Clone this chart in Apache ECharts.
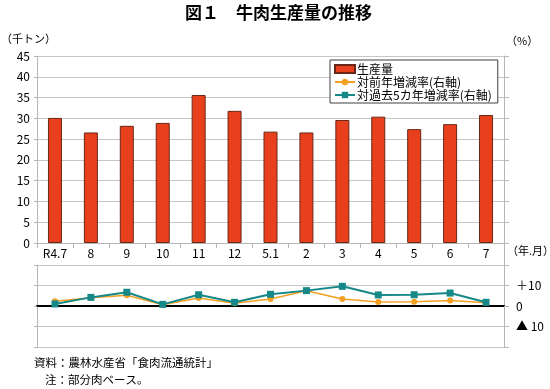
<!DOCTYPE html>
<html><head><meta charset="utf-8">
<script src="https://cdn.jsdelivr.net/npm/echarts@6/dist/echarts.min.js"></script>
<style>html,body{margin:0;padding:0;background:#fff}#c{width:550px;height:389px}</style>
</head><body><div id="c"></div>
<script>
const categories = ['R4.7','8','9','10','11','12','5.1','2','3','4','5','6','7'];
const production = [30.1, 26.6, 28.2, 28.9, 35.6, 31.8, 26.8, 26.6, 29.6, 30.4, 27.4, 28.6, 30.8];
const yoyRate = [2.3, 4.0, 5.2, 0.6, 3.9, 1.3, 3.4, 7.4, 3.4, 1.9, 2.1, 2.7, 1.6];
const fiveYearRate = [1.0, 4.2, 6.7, 0.8, 5.5, 1.8, 5.7, 7.5, 9.6, 5.4, 5.5, 6.3, 1.8];
const leftTicks = {min: 0, max: 45, interval: 5};
const rightTicks = {min: -20, max: 20, interval: 10};
const rightTickLabels = {'10': '＋10', '0': '0', '-10': '▲ 10'};

const FONT = '"Noto Sans CJK JP", sans-serif';
const chart = echarts.init(document.getElementById('c'), null, {renderer: 'canvas'});
const gridGray = '#c6c6c6';
const axisGray = '#b5b5b5';
chart.setOption({
  animation: false,
  textStyle: {fontFamily: FONT, color: '#000'},
  grid: [
    {left: 37, right: 46, top: 56, height: 187},
    {left: 37, right: 46, top: 265, height: 82}
  ],
  legend: {
    orient: 'vertical', left: 330, top: 60,
    backgroundColor: '#fff', borderColor: '#404040', borderWidth: 1,
    padding: [3, 6, 2, 4], itemGap: 1, itemWidth: 20, itemHeight: 8,
    textStyle: {fontFamily: FONT, fontSize: 12, color: '#000', padding: [0, 0, 0, -3]},
    data: [{name: '生産量', icon: 'rect'}, '対前年増減率(右軸)', '対過去5カ年増減率(右軸)']
  },
  xAxis: [
    {type: 'category', gridIndex: 0, data: categories,
     axisLine: {lineStyle: {color: axisGray}},
     axisTick: {show: true, length: 5, lineStyle: {color: axisGray}},
     axisLabel: {fontSize: 12, color: '#000', margin: 4, fontFamily: FONT}},
    {type: 'category', gridIndex: 1, data: categories,
     axisLine: {onZero: true, lineStyle: {color: '#000', width: 2}},
     axisTick: {show: false}, axisLabel: {show: false}}
  ],
  yAxis: [
    {type: 'value', gridIndex: 0, position: 'left', ...leftTicks,
     axisLine: {show: true, lineStyle: {color: axisGray}},
     axisTick: {show: true, length: 3, lineStyle: {color: axisGray}},
     splitLine: {lineStyle: {color: gridGray}},
     axisLabel: {fontSize: 12, color: '#000', margin: 7, fontFamily: FONT}},
    {type: 'value', gridIndex: 0, position: 'right', ...leftTicks,
     axisLine: {show: true, lineStyle: {color: axisGray}},
     axisTick: {show: true, length: 5, lineStyle: {color: axisGray}},
     splitLine: {show: false}, axisLabel: {show: false}},
    {type: 'value', gridIndex: 1, position: 'left', ...rightTicks,
     axisLine: {show: true, onZero: false, lineStyle: {color: axisGray}},
     axisTick: {show: true, length: 3, lineStyle: {color: axisGray}},
     splitLine: {lineStyle: {color: gridGray}}, axisLabel: {show: false}},
    {type: 'value', gridIndex: 1, position: 'right', ...rightTicks,
     axisLine: {show: true, onZero: false, lineStyle: {color: axisGray}},
     axisTick: {show: true, length: 5, lineStyle: {color: axisGray}},
     splitLine: {show: false},
     axisLabel: {fontSize: 12, color: '#000', margin: 12, fontFamily: FONT,
       formatter: v => rightTickLabels[String(v)] || ''}}
  ],
  series: [
    {name: '生産量', type: 'bar', xAxisIndex: 0, yAxisIndex: 0, data: production,
     barWidth: 14,
     itemStyle: {color: '#E8401C', borderColor: '#6a2616', borderWidth: 1}},
    {name: '対前年増減率(右軸)', type: 'line', xAxisIndex: 1, yAxisIndex: 2, data: yoyRate,
     symbol: 'circle', symbolSize: 6, color: '#F3A020',
     lineStyle: {width: 1.5, color: '#F3A020'}, itemStyle: {color: '#F3A020'}},
    {name: '対過去5カ年増減率(右軸)', type: 'line', xAxisIndex: 1, yAxisIndex: 2, data: fiveYearRate,
     symbol: 'rect', symbolSize: 7, color: '#168888',
     lineStyle: {width: 2, color: '#168888'}, itemStyle: {color: '#168888'}}
  ],
  graphic: [
    {type: 'text', left: 185, top: 4,
     style: {text: '図１　牛肉生産量の推移', font: 'bold 17px ' + FONT, fill: '#000'}},
    {type: 'text', left: 1, top: 33,
     style: {text: '（千トン）', font: '11px ' + FONT, fill: '#000'}},
    {type: 'text', left: 506, top: 35,
     style: {text: '（%）', font: '11px ' + FONT, fill: '#000'}},
    {type: 'text', left: 507, top: 245,
     style: {text: '（年.月）', font: '11px ' + FONT, fill: '#000'}},
    {type: 'line', shape: {x1: 504.5, y1: 243, x2: 504.5, y2: 265},
     style: {stroke: axisGray, lineWidth: 1}},
    {type: 'text', left: 34, top: 357,
     style: {text: '資料：農林水産省「食肉流通統計」', font: '11.5px ' + FONT, fill: '#000'}},
    {type: 'text', left: 45, top: 374,
     style: {text: '注：部分肉ベース。', font: '11.5px ' + FONT, fill: '#000'}}
  ]
});
</script></body></html>
